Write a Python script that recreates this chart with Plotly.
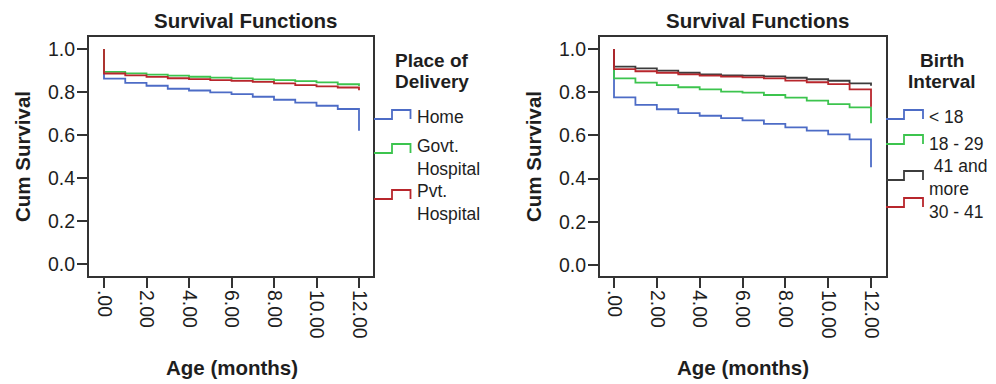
import plotly.graph_objects as go

# ---------------- data ----------------
months = [0, 0, 1, 2, 3, 4, 5, 6, 7, 8, 9, 10, 11, 12]
x_tick_vals = [0, 2, 4, 6, 8, 10, 12]
x_tick_text = [".00", "2.00", "4.00", "6.00", "8.00", "10.00", "12.00"]
y_tick_vals = [0.0, 0.2, 0.4, 0.6, 0.8, 1.0]

# Panel 1: Place of Delivery
delivery_names = ["Home", "Govt. Hospital", "Pvt. Hospital"]
surv_home = [1.0, 0.862, 0.842, 0.829, 0.815, 0.807, 0.798, 0.790, 0.778, 0.764, 0.751, 0.736, 0.721, 0.620]
surv_govt = [1.0, 0.894, 0.887, 0.881, 0.876, 0.871, 0.867, 0.863, 0.859, 0.855, 0.851, 0.845, 0.836, 0.828]
surv_pvt = [1.0, 0.886, 0.877, 0.870, 0.864, 0.860, 0.855, 0.852, 0.847, 0.840, 0.832, 0.826, 0.821, 0.808]

# Panel 2: Birth Interval
interval_names = ["< 18", "18 - 29", "41 and more", "30 - 41"]
surv_lt18 = [1.0, 0.776, 0.741, 0.721, 0.703, 0.691, 0.680, 0.670, 0.653, 0.637, 0.622, 0.605, 0.582, 0.452]
surv_18_29 = [1.0, 0.864, 0.844, 0.833, 0.823, 0.813, 0.803, 0.798, 0.787, 0.775, 0.761, 0.745, 0.730, 0.656]
surv_41plus = [1.0, 0.918, 0.910, 0.900, 0.890, 0.883, 0.878, 0.877, 0.873, 0.867, 0.860, 0.853, 0.841, 0.830]
surv_30_41 = [1.0, 0.907, 0.897, 0.890, 0.883, 0.877, 0.872, 0.869, 0.864, 0.854, 0.846, 0.837, 0.813, 0.733]

# ---------------- styling ----------------
W, H = 996, 384
BLUE = "#4d6cc6"
GREEN = "#3cc44e"
RED = "#b8262c"
GREY = "#3c3c3c"
FRAME = "#333333"
TXT = "#1e1e1e"
FONT = "Liberation Sans, Arial, sans-serif"


def px(x):
    return x / W


def py(y):
    return 1 - y / H


fig = go.Figure()

panel1 = [(surv_home, BLUE), (surv_govt, GREEN), (surv_pvt, RED)]
for (vals, col), name in zip(panel1, delivery_names):
    fig.add_trace(go.Scatter(x=months, y=vals, mode="lines", line=dict(color=col, width=1.8, shape="hv"),
                             name=name, xaxis="x", yaxis="y", showlegend=False))

panel2 = [(surv_lt18, BLUE), (surv_18_29, GREEN), (surv_41plus, GREY), (surv_30_41, RED)]
for (vals, col), name in zip(panel2, interval_names):
    fig.add_trace(go.Scatter(x=months, y=vals, mode="lines", line=dict(color=col, width=1.8, shape="hv"),
                             name=name, xaxis="x2", yaxis="y2", showlegend=False))

xaxis_common = dict(
    tickvals=x_tick_vals, ticktext=x_tick_text, tickangle=90,
    ticks="outside", ticklen=10, tickwidth=2, tickcolor=FRAME,
    showline=True, mirror=True, linecolor=FRAME, linewidth=2,
    showgrid=False, zeroline=False, ticklabelstandoff=-2,
    tickfont=dict(family=FONT, size=19.5, color=TXT),
)
yaxis_common = dict(
    tickvals=y_tick_vals, tickformat=".1f",
    ticks="outside", ticklen=10, tickwidth=2, tickcolor=FRAME,
    showline=True, mirror=True, linecolor=FRAME, linewidth=2,
    showgrid=False, zeroline=False, ticklabelstandoff=-2,
    tickfont=dict(family=FONT, size=19.5, color=TXT),
)

y_dom = [py(276), py(37)]
fig.update_layout(
    width=W, height=H,
    margin=dict(l=0, r=0, t=0, b=0),
    paper_bgcolor="white", plot_bgcolor="white",
    showlegend=False,
    xaxis=dict(domain=[px(89), px(373)], range=[-0.706, 12.659], anchor="y", **xaxis_common),
    yaxis=dict(domain=y_dom, range=[-0.0558, 1.0558], anchor="x", **yaxis_common),
    xaxis2=dict(domain=[px(600), px(886)], range=[-0.654, 12.70], anchor="y2", **xaxis_common),
    yaxis2=dict(domain=y_dom, range=[-0.051, 1.0556], anchor="x2", **yaxis_common),
)

ann = []


def text(x, y, s, size=18, bold=False, angle=0, xanchor="center"):
    ann.append(dict(x=px(x), y=py(y), xref="paper", yref="paper", text=("<b>%s</b>" % s) if bold else s,
                    showarrow=False, xanchor=xanchor, yanchor="middle", textangle=angle, align="left",
                    font=dict(family=FONT, size=size, color=TXT)))


# titles
text(245, 20, "Survival Functions", size=20.5, bold=True)
text(757, 20, "Survival Functions", size=20.5, bold=True)
# axis titles
text(22, 157, "Cum Survival", size=20.5, bold=True, angle=-90)
text(533, 157, "Cum Survival", size=20.5, bold=True, angle=-90)
text(232, 367, "Age (months)", size=20.5, bold=True)
text(743, 367, "Age (months)", size=20.5, bold=True)

# legend titles
text(432, 61, "Place of", size=19, bold=True)
text(432, 82, "Delivery", size=19, bold=True)
text(942, 61, "Birth", size=19, bold=True)
text(942, 82, "Interval", size=19, bold=True)

# legend entries (text)
for s, y in [("Home", 117), ("Govt.<br>Hospital", 157), ("Pvt.<br>Hospital", 202)]:
    text(415, y, s, size=17.5, xanchor="left")
for s, y, x in [("< 18", 117, 927), ("18 - 29", 144, 927), ("\u00a041 and<br>more", 177, 927), ("30 - 41", 212, 927)]:
    text(x, y, s, size=17.5, xanchor="left")

shapes = []


def glyph(x0, xm, x1, lo, col):
    up = lo - 9
    path = "M %f,%f L %f,%f L %f,%f L %f,%f L %f,%f" % (
        px(x0), py(lo), px(xm), py(lo), px(xm), py(up), px(x1), py(up), px(x1), py(lo))
    shapes.append(dict(type="path", path=path, xref="paper", yref="paper",
                       line=dict(color=col, width=1.8)))


for lo, col in [(119, BLUE), (153, GREEN), (199, RED)]:
    glyph(374, 392, 410.5, lo, col)
for lo, col in [(119, BLUE), (144, GREEN), (180, GREY), (207, RED)]:
    glyph(886, 904, 923, lo, col)

fig.update_layout(annotations=ann, shapes=shapes)
fig.write_html("out.html", config={"displayModeBar": False},
               post_script="document.body.style.margin='0px';document.body.style.overflow='hidden';")
